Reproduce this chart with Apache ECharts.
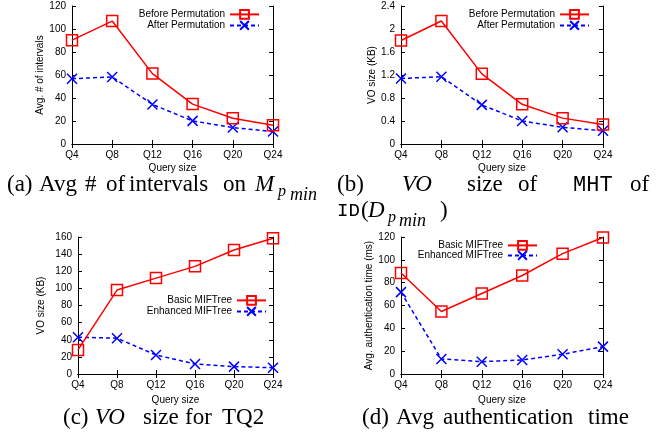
<!DOCTYPE html>
<html><head><meta charset="utf-8">
<script src="https://cdn.jsdelivr.net/npm/echarts@6/dist/echarts.min.js"></script>
<style>html,body{margin:0;padding:0;background:#fff}#c{width:659px;height:434px}</style>
</head><body><div id="c"></div>
<script>
const categories = ['Q4','Q8','Q12','Q16','Q20','Q24'];
const aBefore = [90.3,106.9,61.2,34.7,22.4,16.3];
const aAfter = [56.8,58.3,34.4,20.1,14.3,10.8];
const bBefore = [1.80,2.14,1.22,0.69,0.45,0.34];
const bAfter = [1.14,1.17,0.68,0.40,0.29,0.23];
const cBasic = [28.1,98,112,125.7,144.8,158.5];
const cEnhanced = [42.9,41.8,22.2,11.7,8.6,7.4];
const dBasic = [88.4,54.7,70.5,86.3,105.4,119.5];
const dEnhanced = [71.7,13.2,10.8,12.3,17.3,24];
const yScales = [[0,120,20],[0,2.4,0.4],[0,160,20],[0,120,20]];
const yNames = ['Avg. # of intervals','VO size (KB)','VO size (KB)','Avg. authentication time (ms)'];
const xName = 'Query size';
const seriesNames = [['Before Permutation','After Permutation'],['Before Permutation','After Permutation'],['Basic MIFTree','Enhanced MIFTree'],['Basic MIFTree','Enhanced MIFTree']];
const seriesData = [[aBefore,aAfter],[bBefore,bAfter],[cBasic,cEnhanced],[dBasic,dEnhanced]];

const grids = [
  {left:72, top:6, width:201, height:138},
  {left:401, top:6, width:202, height:138},
  {left:78, top:237, width:195, height:137},
  {left:401, top:237, width:202, height:137}
];
const yNameGaps = [25,23,32,24];
const xNameGaps = [19,19,21,21];
const legendPos = [
  {right:399, tops:[9,20]},
  {right:69, tops:[9,20]},
  {right:392, tops:[295,306]},
  {right:121, tops:[240,250]}
];

const SANS = '"Liberation Sans", Arial, sans-serif';
const black = '#000';
const xAxes = [], yAxes = [], series = [], legends = [];
grids.forEach((g, i) => {
  const tick = {show:true, inside:true, length:4, lineStyle:{color:black, width:1}};
  const line = {show:true, lineStyle:{color:black, width:1}};
  xAxes.push({type:'category', gridIndex:i, data:categories, boundaryGap:false, position:'bottom',
    axisLine:line, axisTick:tick, splitLine:{show:false},
    axisLabel:{color:black, fontSize:10, fontFamily:SANS, margin:6},
    name:xName, nameLocation:'middle', nameGap:19 + (xNameGaps[i]-19), nameTextStyle:{color:black, fontSize:10, fontFamily:SANS}});
  xAxes.push({type:'category', gridIndex:i, data:categories, boundaryGap:false, position:'top',
    axisLine:line, axisTick:tick, axisLabel:{show:false}, splitLine:{show:false}});
  const [mn, mx, iv] = yScales[i];
  yAxes.push({type:'value', gridIndex:i, min:mn, max:mx, interval:iv, position:'left',
    axisLine:line, axisTick:tick, splitLine:{show:false},
    axisLabel:{color:black, fontSize:10, fontFamily:SANS, margin:6},
    name:yNames[i], nameLocation:'middle', nameGap:yNameGaps[i], nameRotate:90,
    nameTextStyle:{color:black, fontSize:10, fontFamily:SANS}});
  yAxes.push({type:'value', gridIndex:i, min:mn, max:mx, interval:iv, position:'right',
    axisLine:line, axisTick:tick, axisLabel:{show:false}, splitLine:{show:false}});
  const [d1, d2] = seriesData[i];
  series.push({type:'line', name:seriesNames[i][0], xAxisIndex:2*i, yAxisIndex:2*i, data:d1,
    symbol:'path://M0,0L10,0L10,10L0,10Z', symbolSize:11, showAllSymbol:true,
    lineStyle:{color:'#ff0000', width:1.5, type:'solid'},
    itemStyle:{color:'rgba(0,0,0,0)', borderColor:'#ff0000', borderWidth:1.5},
    emphasis:{disabled:true}, animation:false, z:3});
  series.push({type:'line', name:seriesNames[i][1], xAxisIndex:2*i, yAxisIndex:2*i, data:d2,
    symbol:'path://M0,0L10,10M10,0L0,10', symbolSize:10, showAllSymbol:true,
    lineStyle:{color:'#0000ff', width:1.5, type:[4,3]},
    itemStyle:{color:'rgba(0,0,0,0)', borderColor:'#0000ff', borderWidth:1.5},
    emphasis:{disabled:true}, animation:false, z:2});
  const lp = legendPos[i];
  [0,1].forEach(k => {
    legends.push({data:[seriesNames[i][k]], right:lp.right, top:lp.tops[k], orient:'vertical',
      align:'right', padding:0, itemWidth:29, itemHeight:11, itemGap:0, selectedMode:false,
      textStyle:{color:black, fontSize:10, fontFamily:SANS}});
  });
});

// captions
const SERIF = '"Liberation Serif", "Times New Roman", serif';
const MONO = '"Liberation Mono", "DejaVu Sans Mono", monospace';
const captionWords = [
  ['(a)',7,185,'n',23,SERIF],['Avg',39,185,'n',23,SERIF],['#',85,185,'n',23,SERIF],['of',106,185,'n',23,SERIF],
  ['intervals',129,185,'n',23,SERIF],['on',223,185,'n',23,SERIF],['M',255,185,'i',23,SERIF],
  ['p',278,192,'i',16,SERIF],['min',290,195,'i',18,SERIF],
  ['(b)',337,185,'n',23,SERIF],['VO',402,185,'i',23,SERIF],['size',467,185,'n',23,SERIF],['of',518,185,'n',23,SERIF],
  ['MHT',573,185,'n',22,MONO],['of',630,185,'n',23,SERIF],
  ['ID',337,211,'n',19,MONO],['(',361,211,'n',23,SERIF],['D',368,211,'i',23,SERIF],
  ['p',388,218,'i',16,SERIF],['min',399,221,'i',18,SERIF],[')',440,211,'n',23,SERIF],
  ['(c)',63,418,'n',23,SERIF],['VO',95,418,'i',23,SERIF],['size',143,418,'n',23,SERIF],['for',185,418,'n',23,SERIF],['TQ2',222,418,'n',23,SERIF],
  ['(d)',362,418,'n',23,SERIF],['Avg',396,418,'n',23,SERIF],['authentication',443,418,'n',23,SERIF],['time',588,418,'n',23,SERIF]
];
const graphic = captionWords.map(w => ({type:'text', silent:true,
  style:{text:w[0], x:w[1], y:w[2], fill:black,
    font:(w[3]==='i'?'italic ':'') + w[4] + 'px ' + w[5],
    textAlign:'left', textVerticalAlign:'middle', align:'left', verticalAlign:'middle'}}));

const chart = echarts.init(document.getElementById('c'), null, {renderer:'canvas'});
chart.setOption({animation:false, backgroundColor:'#fff', grid:grids.map(g=>Object.assign({containLabel:false}, g)),
  xAxis:xAxes, yAxis:yAxes, series:series, legend:legends, graphic:graphic, tooltip:{show:false}});
</script></body></html>
